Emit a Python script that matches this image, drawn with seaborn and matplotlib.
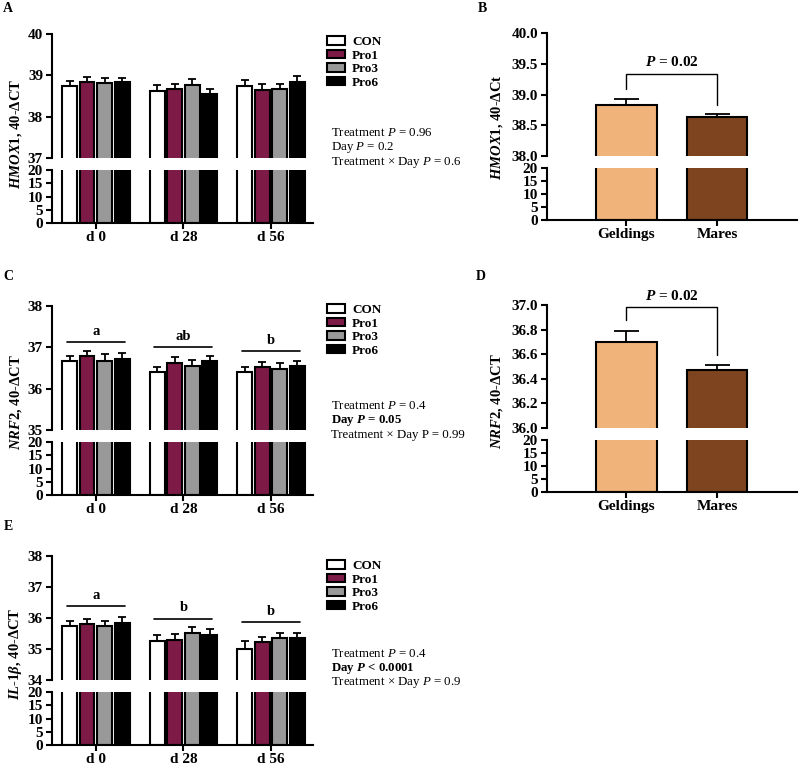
import numpy as np
import pandas as pd
import matplotlib
matplotlib.use("Agg")
import matplotlib.pyplot as plt
import seaborn as sns
from matplotlib.patches import Patch

sns.set_style("ticks", rc={"axes.edgecolor": "black", "xtick.color": "black",
                           "ytick.color": "black", "text.color": "black",
                           "axes.labelcolor": "black"})
plt.rcParams["font.family"] = ["Liberation Serif", "DejaVu Serif"]
plt.rcParams["mathtext.fontset"] = "custom"
plt.rcParams["mathtext.it"] = "Liberation Serif:italic:bold"
plt.rcParams["mathtext.rm"] = "Liberation Serif:bold"
plt.rcParams["mathtext.bf"] = "Liberation Serif:bold"
plt.rcParams["mathtext.sf"] = "Liberation Serif:italic:regular"
plt.rcParams["axes.linewidth"] = 1.5

# Data
days = ["d 0", "d 28", "d 56"]
treatments = ["CON", "Pro1", "Pro3", "Pro6"]
trt_colors = ["white", "#7D1A45", "#999999", "black"]

hmox1_mean = [[38.75, 38.84, 38.82, 38.83],
              [38.63, 38.67, 38.77, 38.55],
              [38.75, 38.65, 38.67, 38.85]]
hmox1_sem = [[0.12, 0.12, 0.11, 0.11],
             [0.13, 0.13, 0.13, 0.11],
             [0.13, 0.13, 0.13, 0.13]]

nrf2_mean = [[36.67, 36.78, 36.68, 36.72],
             [36.40, 36.62, 36.55, 36.66],
             [36.40, 36.52, 36.47, 36.55]]
nrf2_sem = [[0.13, 0.14, 0.16, 0.14],
            [0.13, 0.14, 0.14, 0.14],
            [0.13, 0.13, 0.16, 0.13]]
nrf2_letters = ["a", "ab", "b"]
nrf2_letter_y = [37.12, 37.0, 36.9]

il1b_mean = [[35.73, 35.82, 35.73, 35.85],
             [35.25, 35.30, 35.52, 35.46],
             [35.01, 35.21, 35.35, 35.35]]
il1b_sem = [[0.16, 0.16, 0.17, 0.18],
            [0.19, 0.17, 0.19, 0.17],
            [0.24, 0.18, 0.18, 0.17]]
il1b_letters = ["a", "b", "b"]
il1b_letter_y = [36.38, 35.98, 35.87]

sexes = ["Geldings", "Mares"]
sex_colors = ["#F0B47A", "#7E4420"]
hmox1_sex_mean = [38.83, 38.64]
hmox1_sex_sem = [0.09, 0.04]
hmox1_bracket = [39.09, 39.34, 38.83]
nrf2_sex_mean = [36.70, 36.47]
nrf2_sex_sem = [0.09, 0.04]
nrf2_bracket = [36.88, 36.98, 36.59]

W, H = 800, 770
fig = plt.figure(figsize=(W / 100, H / 100), dpi=100)


def px_axes(x0, x1, y0, y1):
    # axes from pixel box (top-left origin)
    return fig.add_axes([x0 / W, 1 - y1 / H, (x1 - x0) / W, (y1 - y0) / H])


def style_pair(ax_top, ax_bot, xlabel_size=11):
    for ax in (ax_top, ax_bot):
        ax.spines["top"].set_visible(False)
        ax.spines["right"].set_visible(False)
        ax.set_xlabel("")
        ax.set_ylabel("")
        ax.tick_params(axis="both", direction="out", length=4, width=1.5,
                       labelsize=11, pad=2.5)
    ax_top.spines["bottom"].set_visible(False)
    ax_top.tick_params(axis="x", bottom=False, labelbottom=False)
    ax_bot.tick_params(axis="x", labelsize=xlabel_size, pad=2)
    for lab in ax_bot.get_xticklabels() + ax_bot.get_yticklabels() + ax_top.get_yticklabels():
        lab.set_fontweight("bold")


def treatment_panel(y_top, means, sems, ylim, yticks, letters=None, letter_y=None):
    ax_top = px_axes(52, 313, y_top, y_top + 124)
    ax_bot = px_axes(52, 313, y_top + 136, y_top + 189)
    df = pd.DataFrame({"day": np.repeat(days, 4),
                       "trt": treatments * 3,
                       "val": np.ravel(means)})
    for ax in (ax_top, ax_bot):
        sns.barplot(data=df, x="day", y="val", hue="trt", hue_order=treatments,
                    palette=trt_colors, saturation=1, edgecolor="black",
                    linewidth=1.5, width=0.8, gap=0.15, errorbar=None,
                    legend=False, ax=ax)
        ax.set_xlim(-0.5, 2.48)
    sem_arr = np.array(sems)
    bar_conts = list(ax_top.containers)
    for k, cont in enumerate(bar_conts):
        xs = [b.get_x() + b.get_width() / 2 for b in cont]
        hs = [b.get_height() for b in cont]
        ax_top.errorbar(xs, hs, yerr=[np.zeros(len(xs)), sem_arr[:, k]], fmt="none",
                        ecolor="black", elinewidth=1.3, capsize=2.8, capthick=1.3)
    ax_top.set_ylim(*ylim)
    ax_top.set_yticks(yticks, [str(t) for t in yticks])
    ax_bot.set_ylim(0, 20)
    ax_bot.set_yticks([0, 5, 10, 15, 20], ["0", "5", "10", "15", "20"])
    if letters:
        for i, (let, ly) in enumerate(zip(letters, letter_y)):
            ax_top.plot([i - 0.33, i + 0.33], [ly, ly], color="black", lw=1.2)
            ax_top.annotate(let, (i, ly), xytext=(0, 3), textcoords="offset points",
                            ha="center", va="bottom", fontsize=10.5, fontweight="bold")
    style_pair(ax_top, ax_bot)
    return ax_top, ax_bot


def sex_panel(y_top, means, sems, ylim, yticks, bracket):
    ax_top = px_axes(547, 797, y_top, y_top + 123)
    ax_bot = px_axes(547, 797, y_top + 135, y_top + 187)
    for ax in (ax_top, ax_bot):
        sns.barplot(x=sexes, y=means, hue=sexes, palette=sex_colors, saturation=1,
                    edgecolor="black", linewidth=1.5, width=0.67, errorbar=None,
                    legend=False, ax=ax)
        ax.set_xlim(-0.87, 1.88)
    xs = [c[0].get_x() + c[0].get_width() / 2 for c in list(ax_top.containers)]
    ax_top.errorbar(xs, means, yerr=[np.zeros(2), sems], fmt="none", ecolor="black",
                    elinewidth=1.3, capsize=9, capthick=1.3)
    ax_top.set_ylim(*ylim)
    ax_top.set_yticks(yticks, [f"{t:.1f}" for t in yticks])
    ax_bot.set_ylim(0, 20)
    ax_bot.set_yticks([0, 5, 10, 15, 20], ["0", "5", "10", "15", "20"])
    left_y, top_y, right_y = bracket
    ax_top.plot([xs[0], xs[0], xs[1], xs[1]], [left_y, top_y, top_y, right_y],
                color="black", lw=1.0, clip_on=False)
    ax_top.annotate(r"$\mathit{P}$ = 0.02", ((xs[0] + xs[1]) / 2, top_y),
                    xytext=(0, 3), textcoords="offset points", ha="center",
                    va="bottom", fontsize=11, fontweight="bold", annotation_clip=False)
    style_pair(ax_top, ax_bot)
    return ax_top, ax_bot


treatment_panel(34, hmox1_mean, hmox1_sem, (37, 40), [37, 38, 39, 40])
treatment_panel(306, nrf2_mean, nrf2_sem, (35, 38), [35, 36, 37, 38],
                nrf2_letters, nrf2_letter_y)
treatment_panel(556, il1b_mean, il1b_sem, (34, 38), [34, 35, 36, 37, 38],
                il1b_letters, il1b_letter_y)

sex_panel(33, hmox1_sex_mean, hmox1_sex_sem, (38, 40),
          [38.0, 38.5, 39.0, 39.5, 40.0], hmox1_bracket)
sex_panel(305, nrf2_sex_mean, nrf2_sex_sem, (36, 37),
          [36.0, 36.2, 36.4, 36.6, 36.8, 37.0], nrf2_bracket)


def ftext(x, y, s, **kw):
    fig.text(x / W, 1 - y / H, s, **kw)


# panel letters
for letter, (lx, ly) in zip("ABCDE", [(8, 9), (482, 9), (8, 276), (481, 277), (8, 527)]):
    ftext(lx, ly, letter, ha="center", va="center", fontsize=10, fontweight="bold")

# y labels
ylabels = [(16, 134, r"$\mathit{HMOX1}$, 40-ΔCT"),
           (16, 402, r"$\mathit{NRF2}$, 40-ΔCT"),
           (16, 654, r"$\mathit{IL}$-$\mathit{1\beta}$, 40-ΔCT"),
           (497, 127, r"$\mathit{HMOX1}$, 40-ΔCt"),
           (497, 401, r"$\mathit{NRF2}$, 40-ΔCT")]
for lx, ly, s in ylabels:
    ftext(lx, ly, s, rotation=90, ha="center", va="center", fontsize=10.5,
          fontweight="bold")

# legends
handles = [Patch(facecolor=c, edgecolor="black", linewidth=1.5) for c in trt_colors]
for ly in [36, 304, 560]:
    fig.legend(handles, treatments, loc="upper left",
               bbox_to_anchor=(327 / W, 1 - ly / H), frameon=False, borderpad=0,
               borderaxespad=0, handlelength=1.35, handleheight=0.6,
               handletextpad=0.55, labelspacing=0.12,
               prop={"family": "Liberation Serif", "weight": "bold", "size": 9.5})

# statistics text
stats = [
    (133, [("Treatment $\\mathsf{P}$ = 0.96", "normal"),
           ("Day $\\mathsf{P}$ = 0.2", "normal"),
           ("Treatment × Day $\\mathsf{P}$ = 0.6", "normal")]),
    (406, [("Treatment $\\mathsf{P}$ = 0.4", "normal"),
           ("Day $\\mathit{P}$ = 0.05", "bold"),
           ("Treatment × Day P = 0.99", "normal")]),
    (654, [("Treatment $\\mathsf{P}$ = 0.4", "normal"),
           ("Day $\\mathit{P}$ < 0.0001", "bold"),
           ("Treatment × Day $\\mathsf{P}$ = 0.9", "normal")]),
]
for y0, lines in stats:
    for j, (s, wgt) in enumerate(lines):
        ftext(331, y0 + j * 14.5, s, ha="left", va="center", fontsize=9.3,
              fontweight=wgt)

fig.savefig("out.png", dpi=100)
